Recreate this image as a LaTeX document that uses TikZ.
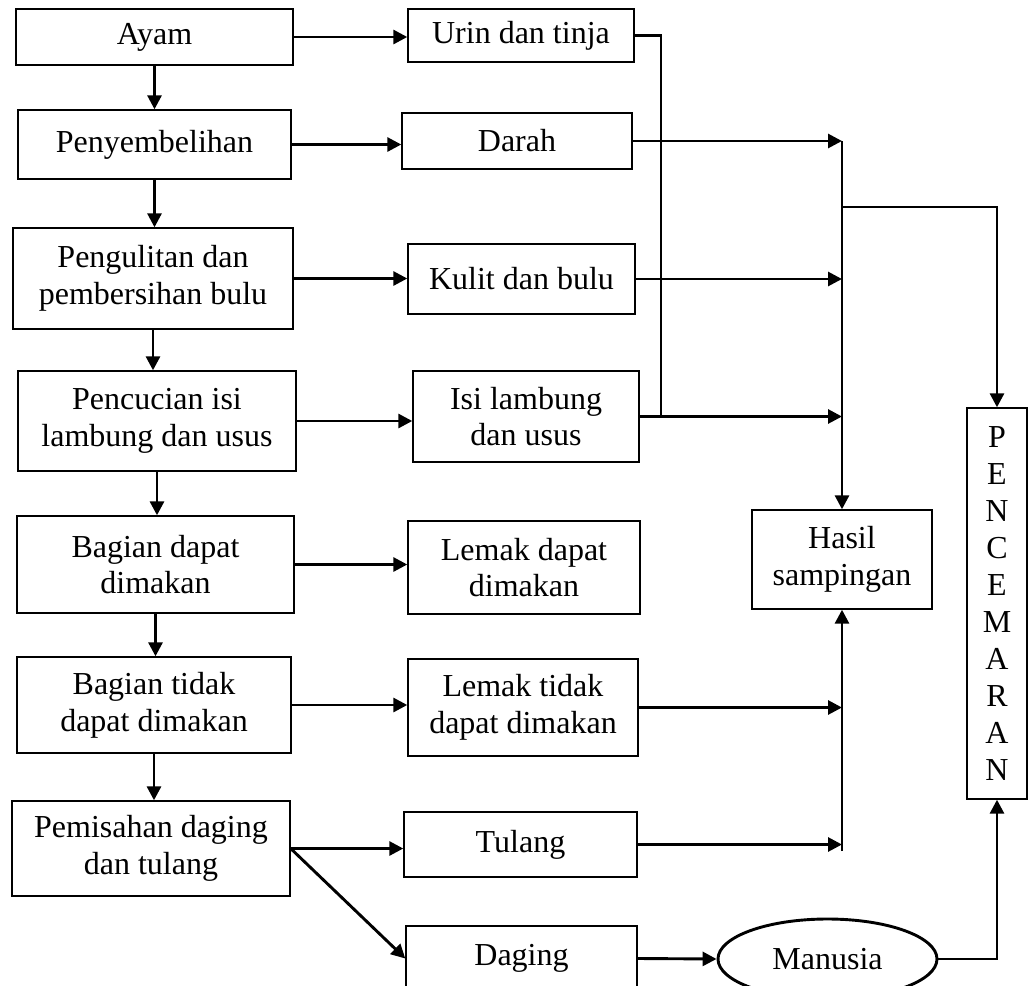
\documentclass[tikz,border=0pt]{standalone}
\usepackage{fontspec}
\setmainfont{Liberation Serif}
\usetikzlibrary{shapes.geometric, arrows.meta}

\begin{document}
\begin{tikzpicture}[x=0.5pt, y=-0.5pt,
  kotak/.style={draw, line width=0.7pt, align=center, inner sep=0pt, font=\fontsize{16}{18.4}\selectfont},
  panah/.style={line width=1.45pt, -{Triangle[length=7pt, width=7pt]}},
  garis/.style={line width=1.45pt}]
  \clip (0,0) rectangle (1030,986);
  \node[kotak, minimum width=138.5pt, minimum height=28pt] (ayam) at (154.5,37) {Ayam};
  \node[kotak, minimum width=136.5pt, minimum height=34.5pt] (sembelih) at (154.5,144.5) {Penyembelihan};
  \node[kotak, minimum width=140pt, minimum height=50.5pt] (kuliti) at (153,278.5) {Pengulitan dan\\pembersihan bulu};
  \node[kotak, minimum width=139pt, minimum height=50pt] (cuci) at (157,421) {Pencucian isi\\lambung dan usus};
  \node[kotak, minimum width=138.5pt, minimum height=48.5pt] (dapat) at (155.5,564.5) {Bagian dapat\\dimakan};
  \node[kotak, minimum width=137pt, minimum height=48pt] (tidak) at (154,705) {Bagian tidak\\dapat dimakan};
  \node[kotak, minimum width=139pt, minimum height=47.5pt] (pisah) at (151,848.5) {Pemisahan daging\\dan tulang};

  \node[kotak, minimum width=113pt, minimum height=26.5pt] (urin) at (521,35.5) {Urin dan tinja};
  \node[kotak, minimum width=115pt, minimum height=28pt] (darah) at (517,141) {Darah};
  \node[kotak, minimum width=113.5pt, minimum height=35pt] (kulit) at (521.5,279) {Kulit dan bulu};
  \node[kotak, minimum width=113pt, minimum height=45.5pt] (isi) at (526,416.5) {Isi lambung\\dan usus};
  \node[kotak, minimum width=116pt, minimum height=46.5pt] (lemakd) at (524,567.5) {Lemak dapat\\dimakan};
  \node[kotak, minimum width=115pt, minimum height=48.5pt] (lemakt) at (523,707.5) {Lemak tidak\\dapat dimakan};
  \node[kotak, minimum width=116.5pt, minimum height=32.5pt] (tulang) at (520.5,844.5) {Tulang};
  \node[kotak, minimum width=115.5pt, minimum height=32.5pt] (daging) at (521.5,958.5) {Daging};

  \node[kotak, minimum width=90pt, minimum height=49.5pt] (hasil) at (842,559.5) {Hasil\\sampingan};
  \node[kotak, minimum width=30pt, minimum height=195.5pt, font=\fontsize{16}{18.45}\selectfont] (pcm) at (997,603.5) {P\\E\\N\\C\\E\\M\\A\\R\\A\\N};
  \node[kotak, ellipse, line width=1.45pt, minimum width=109.5pt, minimum height=40pt] (manusia) at (827.5,959) {Manusia};

  \foreach \a/\b in {ayam/sembelih, sembelih/kuliti, kuliti/cuci, cuci/dapat, dapat/tidak, tidak/pisah}
    \draw[panah] (\a.south) -- (\a.south |- \b.north);
  \foreach \a/\b in {ayam/urin, sembelih/darah, kuliti/kulit, cuci/isi, dapat/lemakd, tidak/lemakt, pisah/tulang}
    \draw[panah] (\a.east) -- (\a.east -| \b.west);

  \coordinate (urinbawah) at (661,417);
  \draw[garis] (urin.east) -| (urinbawah);
  \draw[panah] (darah.east) -- (darah.east -| hasil.north);
  \draw[panah] (kulit.east) -- (kulit.east -| hasil.north);
  \draw[panah] (isi.east) -- (isi.east -| hasil.north);
  \draw[panah] (darah.east -| hasil.north) -- (hasil.north);
  \coordinate (cabang) at (842,207);
  \draw[panah] (cabang) -| (pcm.north);

  \draw[panah] (lemakt.east) -- (lemakt.east -| hasil.south);
  \draw[panah] (tulang.east) -- (tulang.east -| hasil.south);
  \coordinate (bawah) at (842,851);
  \draw[panah] (bawah) -- (hasil.south);

  \draw[panah] (pisah.east) -- (daging.west);
  \draw[panah] (daging.east) -- (manusia.west);
  \draw[panah] (manusia.east) -| (pcm.south);
\end{tikzpicture}
\end{document}
